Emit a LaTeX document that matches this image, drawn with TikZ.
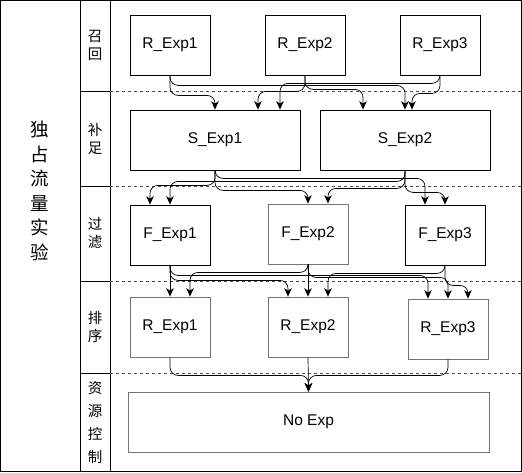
\documentclass[tikz,border=0pt]{standalone}
\usepackage{fontspec}
\setmainfont{Liberation Sans}
\newfontfamily\cjk{Noto Sans CJK SC}
\usetikzlibrary{arrows.meta}
\begin{document}
\begin{tikzpicture}[x=1pt,y=-1pt,
  box/.style={draw, line width=0.8pt, minimum width=80pt, minimum height=60pt, inner sep=0pt, font=\fontsize{15.5}{18}\selectfont},
  gbox/.style={box, draw=black!55},
  edge/.style={draw, line width=0.7pt, rounded corners=8pt, -{Stealth[length=8.5pt,width=7.5pt,inset=2.5pt]}},
  lanelbl/.style={font=\cjk\fontsize{14.5}{18}\selectfont, align=center, inner sep=0pt},
  frame/.style={line width=0.8pt},
  sep/.style={line width=0.7pt, black!70, dash pattern=on 3pt off 3pt},
]
\useasboundingbox (0,0) rectangle (522,472);
% frame
\draw[frame] (0.5,0.5) rectangle (521.5,471.5);
\draw[frame] (80,0) -- (80,472);
\draw[frame] (110,0) -- (110,472);
\foreach \yy in {91,186,281,373}{
  \draw[frame] (80,\yy) -- (110,\yy);
  \draw[sep] (110,\yy) -- (521,\yy);
}
% labels
\node[font=\cjk\fontsize{18.5}{24.5}\selectfont, align=center, inner sep=0pt] (pool) at (40,191) {独\\占\\流\\量\\实\\验};
\node[lanelbl] (L1) at (95,45.5) {召\\回};
\node[lanelbl] (L2) at (95,138.5) {补\\足};
\node[lanelbl] (L3) at (95,233.5) {过\\滤};
\node[lanelbl] (L4) at (95,327) {排\\序};
\node[lanelbl, font=\cjk\fontsize{14.5}{23}\selectfont] (L5) at (95,422.5) {资\\源\\控\\制};
% nodes
\node[box] (R1) at (170,45) {R\_Exp1};
\node[box] (R2) at (305,45) {R\_Exp2};
\node[box] (R3) at (440,45) {R\_Exp3};
\node[box, minimum width=170pt] (S1) at (215,140) {S\_Exp1};
\node[box, minimum width=170pt] (S2) at (405,140) {S\_Exp2};
\node[box] (F1) at (170,235) {F\_Exp1};
\node[gbox] (F2) at (308,234) {F\_Exp2};
\node[box] (F3) at (445,235) {F\_Exp3};
\node[gbox] (K1) at (170,327) {R\_Exp1};
\node[gbox] (K2) at (308,327) {R\_Exp2};
\node[gbox] (K3) at (448,329) {R\_Exp3};
\node[gbox, minimum width=361pt] (N) at (308.5,422) {No Exp};
% recall -> supplement
\draw[edge] (R1.south) -- ++(0,20) -| (S1.north);
\draw[edge] (R1.south) -- ++(0,10) -| (S2.north);
\draw[edge] (R2.south) -- ++(0,16) -| ([xshift=43pt]S1.north);
\draw[edge] (R2.south) -- ++(0,14) -| ([xshift=-42pt]S2.north);
\draw[edge] (R3.south) -- ++(0,8) -| ([xshift=65pt]S1.north);
\draw[edge] (R3.south) -- ++(0,18) -| ([xshift=7pt]S2.north);
% supplement -> filter
\draw[edge] (S1.south) -- ++(0,15) -| ([xshift=-20pt]F1.north);
\draw[edge] (S2.south) -- ++(0,11) -| (F1.north);
\draw[edge] (S1.south) -- ++(0,20) -| (F2.north);
\draw[edge] (S2.south) -- ++(0,18) -| ([xshift=20pt]F2.north);
\draw[edge] (S1.south) -- ++(0,8) -| ([xshift=-20pt]F3.north);
\draw[edge] (S2.south) -- ++(0,22) -| (F3.north);
% filter -> rank
\draw[edge] (F1.south) -- (K1.north);
\draw[edge] (F1.south) -- ++(0,15) -| ([xshift=-20pt]K2.north);
\draw[edge] (F1.south) -- ++(0,10) -| ([xshift=-20pt]K3.north);
\draw[edge] (F2.south) -- ++(0,8) -| ([xshift=20pt]K1.north);
\draw[edge] (F2.south) -- (K2.north);
\draw[edge] (F2.south) -- ++(0,13) -| (K3.north);
\draw[edge] (F3.south) -- ++(0,8) -| ([xshift=20pt]K2.north);
\draw[edge] (F3.south) -- ++(0,20) -| ([xshift=20pt]K3.north);
% rank -> resource
\draw[edge] (K1.south) -- ++(0,18) -| (N.north);
\draw[edge] (K2.south) -- (N.north);
\draw[edge] (K3.south) -- ++(0,16) -| (N.north);
\end{tikzpicture}
\end{document}
